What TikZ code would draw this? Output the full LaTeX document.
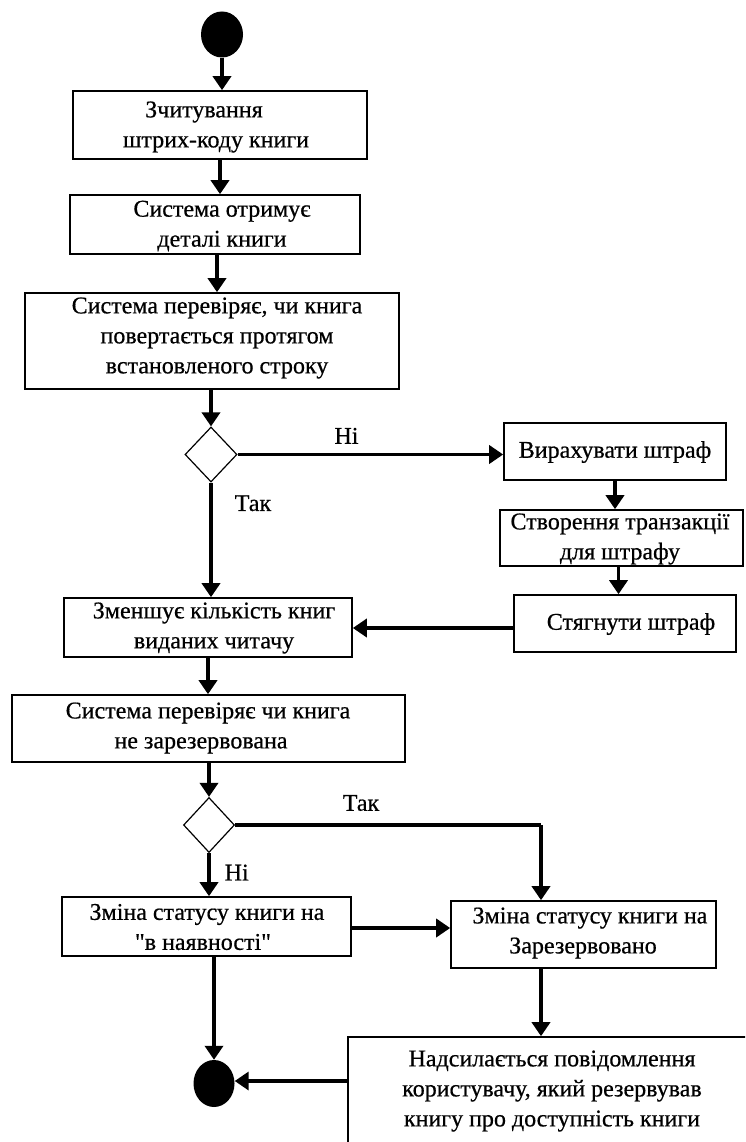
\documentclass[tikz,border=0pt]{standalone}
\usepackage{fontspec}
\setmainfont[FakeBold=0.6,Ligatures=TeXReset]{Liberation Serif}
\usetikzlibrary{arrows.meta,shapes.geometric,calc}
\begin{document}
\begin{tikzpicture}[x=1pt,y=-1pt,
  box/.style={draw, line width=1.6pt, inner sep=0pt},
  txt/.style={font=\fontsize{24}{30}\selectfont, align=center, inner sep=0pt},
  lbl/.style={font=\fontsize{24}{30}\selectfont, inner sep=0pt},
  flow/.style={line width=3.5pt, -{Triangle[length=14pt,width=18pt]}},
  plain/.style={line width=3.5pt},
  dot/.style={ellipse, fill=black, inner sep=0pt},
  choice/.style={diamond, draw, line width=1.2pt, inner sep=0pt}]
\useasboundingbox (0,0) rectangle (745,1142);
\clip (0,0) rectangle (745,1142);

% start / end
\node[dot, minimum width=42pt, minimum height=46pt] (start) at (222,34.5) {};
\node[dot, minimum width=41pt, minimum height=47pt] (end) at (214,1083.5) {};

% main column
\node[box, minimum width=294pt, minimum height=68pt] (b1) at (220,125) {};
\node[txt] (b1t) at (216,127) {Зчитування\hspace*{24pt}\\штрих-коду книги};
\node[box, minimum width=290pt, minimum height=59pt] (b2) at (215,224.5) {};
\node[txt] (b2t) at (222,226) {Система отримує\\деталі книги};
\node[box, minimum width=374pt, minimum height=96pt] (b3) at (212,341) {};
\node[txt] (b3t) at (217,338) {Система перевіряє, чи книга\\повертається протягом\\встановленого строку};
\node[choice, minimum width=52pt, minimum height=55pt] (d1) at (211,454.5) {};

% fine branch
\node[box, minimum width=222pt, minimum height=57pt] (f1) at (615,451.5) {};
\node[txt] (f1t) at (615,452) {Вирахувати штраф};
\node[box, minimum width=243pt, minimum height=56pt] (f2) at (621.5,538) {};
\node[txt] (f2t) at (620,539) {Створення транзакції\\для штрафу};
\node[box, minimum width=222pt, minimum height=57pt] (f3) at (625,623.5) {};
\node[txt] (f3t) at (631,624) {Стягнути штраф};

\node[box, minimum width=288pt, minimum height=59pt] (b4) at (208,627.5) {};
\node[txt] (b4t) at (214,628) {Зменшує кількість книг\\виданих читачу};
\node[box, minimum width=393pt, minimum height=67pt] (b5) at (208.5,728.5) {};
\node[txt] (b5t) at (208,728) {Система перевіряє чи книга\\\hspace*{-14pt}не зарезервована};
\node[choice, minimum width=51pt, minimum height=55pt] (d2) at (209,825) {};

\node[box, minimum width=289pt, minimum height=59pt] (b6) at (206.5,926.5) {};
\node[txt] (b6t) at (207,927) {Зміна статусу книги на\\\hspace*{-8pt}"в наявності"};
\node[box, minimum width=265pt, minimum height=67pt] (b7) at (583.5,934.5) {};
\node[txt] (b7t) at (590,933) {Зміна статусу книги на\\\hspace*{-14pt}Зарезервовано};
\node[box, minimum width=412pt, minimum height=123pt] (b8) at (554,1098.5) {};
\node[txt] (b8t) at (552,1091) {Надсилається повідомлення\\користувачу, який резервував\\книгу про доступність книги};

\coordinate (k) at (541,825);

% connectors
\draw[flow] (start.south) -- (start.south |- b1.north);
\draw[flow] (b1.south) -- (b1.south |- b2.north);
\draw[flow] ([xshift=2pt]b2.south) -- ([xshift=2pt]b2.south |- b3.north);
\draw[flow] (d1.north |- b3.south) -- (d1.north);
\draw[flow] (d1.east) -- (d1.east -| f1.west) node[lbl, pos=0.41, above=9pt] (n1) {Ні};
\draw[flow] (f1.south) -- (f1.south |- f2.north);
\draw[flow] ([xshift=-3pt]f2.south) -- ([xshift=-3pt]f2.south |- f3.north);
\draw[flow] (f3.west |- 0,628) -- (b4.east |- 0,628);
\draw[flow] (d1.south) -- (d1.south |- b4.north) node[lbl, pos=0.18, right=22pt] (y1) {Так};
\draw[flow] (b4.south) -- (b4.south |- b5.north);
\draw[flow] (d2.north |- b5.south) -- (d2.north);
\draw[plain] (d2.east) -- (k);
\draw[flow] (k) -- (k |- b7.north);
\node[lbl] (y2) at (361,803) {Так};
\draw[flow] (d2.south) -- (d2.south |- b6.north) node[lbl, pos=0.45, right=14pt] (n2) {Ні};
\draw[flow] (b6.east |- 0,928) -- (b7.west |- 0,928);
\draw[flow] (k |- b7.south) -- (k |- b8.north);
\draw[flow] (end.north |- b6.south) -- (end.north);
\draw[flow] (b8.west |- 0,1081) -- (end.east |- 0,1081);
\end{tikzpicture}
\end{document}
